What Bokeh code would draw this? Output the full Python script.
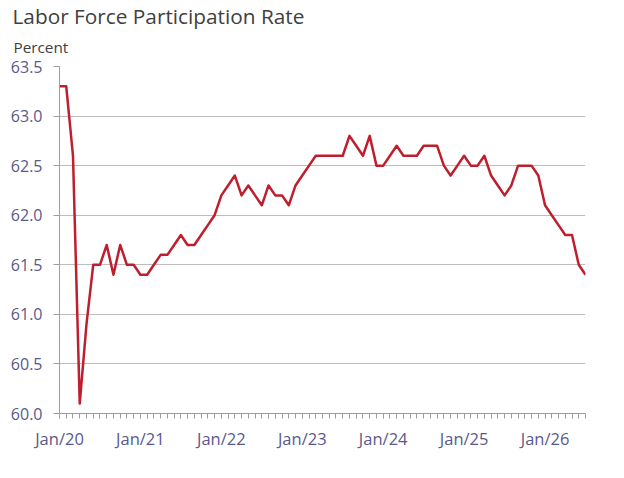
from bokeh.plotting import figure
from bokeh.models import FixedTicker, Range1d, Title, NumeralTickFormatter
from bokeh.embed import file_html
from bokeh.resources import INLINE

# Monthly labor force participation rate, Jan 2020 .. Jul 2026
rate = [
    63.3, 63.3, 62.6, 60.1, 60.9, 61.5, 61.5, 61.7, 61.4, 61.7, 61.5, 61.5,  # 2020
    61.4, 61.4, 61.5, 61.6, 61.6, 61.7, 61.8, 61.7, 61.7, 61.8, 61.9, 62.0,  # 2021
    62.2, 62.3, 62.4, 62.2, 62.3, 62.2, 62.1, 62.3, 62.2, 62.2, 62.1, 62.3,  # 2022
    62.4, 62.5, 62.6, 62.6, 62.6, 62.6, 62.6, 62.8, 62.7, 62.6, 62.8, 62.5,  # 2023
    62.5, 62.6, 62.7, 62.6, 62.6, 62.6, 62.7, 62.7, 62.7, 62.5, 62.4, 62.5,  # 2024
    62.6, 62.5, 62.5, 62.6, 62.4, 62.3, 62.2, 62.3, 62.5, 62.5, 62.5, 62.4,  # 2025
    62.1, 62.0, 61.9, 61.8, 61.8, 61.5, 61.4,                                # 2026
]
month_index = list(range(len(rate)))
tick_labels = ["Jan/20", "Jan/21", "Jan/22", "Jan/23", "Jan/24", "Jan/25", "Jan/26"]
tick_positions = [12 * i for i in range(len(tick_labels))]
y_ticks = [60.0, 60.5, 61.0, 61.5, 62.0, 62.5, 63.0, 63.5]
title_text = "Labor Force Participation Rate"
unit_text = "Percent"

FONT = "Open Sans"
LABEL_COLOR = "#59598c"

p = figure(width=620, height=470, output_backend="svg", toolbar_location=None,
           x_range=Range1d(0, len(rate) - 1), y_range=Range1d(60.0, 63.5),
           min_border_left=59, min_border_right=35, min_border_top=66,
           min_border_bottom=57, title=title_text)

p.title.align = "left"
p.title.offset = -47
p.title.text_font = FONT
p.title.text_font_size = "20.8px"
p.title.text_font_style = "normal"
p.title.text_color = "#404040"
p.title.standoff = -9

sub = Title(text=unit_text, align="left", offset=-46, text_font=FONT,
            text_font_size="15.3px", text_font_style="normal",
            text_color="#404040", standoff=19)
p.add_layout(sub, "above")

p.line(month_index, rate, line_color="#be1e2d", line_width=2.5, line_join="round")

p.outline_line_color = None
p.background_fill_color = "white"
p.border_fill_color = "white"

# grid
p.xgrid.grid_line_color = None
p.ygrid.grid_line_color = "#bdbdbd"
p.ygrid.grid_line_width = 1
p.ygrid.ticker = FixedTicker(ticks=y_ticks)

# y axis
p.yaxis.ticker = FixedTicker(ticks=y_ticks)
p.yaxis.formatter = NumeralTickFormatter(format="0.0")
p.yaxis.axis_line_color = "#9e9e9e"
p.yaxis.major_tick_line_color = "#9e9e9e"
p.yaxis.major_tick_out = 6
p.yaxis.major_tick_in = 0
p.yaxis.minor_tick_line_color = None
p.yaxis.major_label_text_font = FONT
p.yaxis.major_label_text_font_size = "16px"
p.yaxis.major_label_text_color = LABEL_COLOR
p.yaxis.major_label_standoff = 11

# x axis
p.xaxis.ticker = FixedTicker(ticks=tick_positions, minor_ticks=month_index)
p.xaxis.major_label_overrides = {pos: lab for pos, lab in zip(tick_positions, tick_labels)}
p.xaxis.axis_line_color = "#9e9e9e"
p.xaxis.major_tick_line_color = "#9e9e9e"
p.xaxis.minor_tick_line_color = "#9e9e9e"
p.xaxis.major_tick_out = 5
p.xaxis.major_tick_in = 0
p.xaxis.minor_tick_out = 5
p.xaxis.minor_tick_in = 0
p.xaxis.major_label_text_font = FONT
p.xaxis.major_label_text_font_size = "16.5px"
p.xaxis.major_label_text_color = LABEL_COLOR
p.xaxis.major_label_standoff = 8

open("out.html", "w").write(file_html(p, INLINE))
